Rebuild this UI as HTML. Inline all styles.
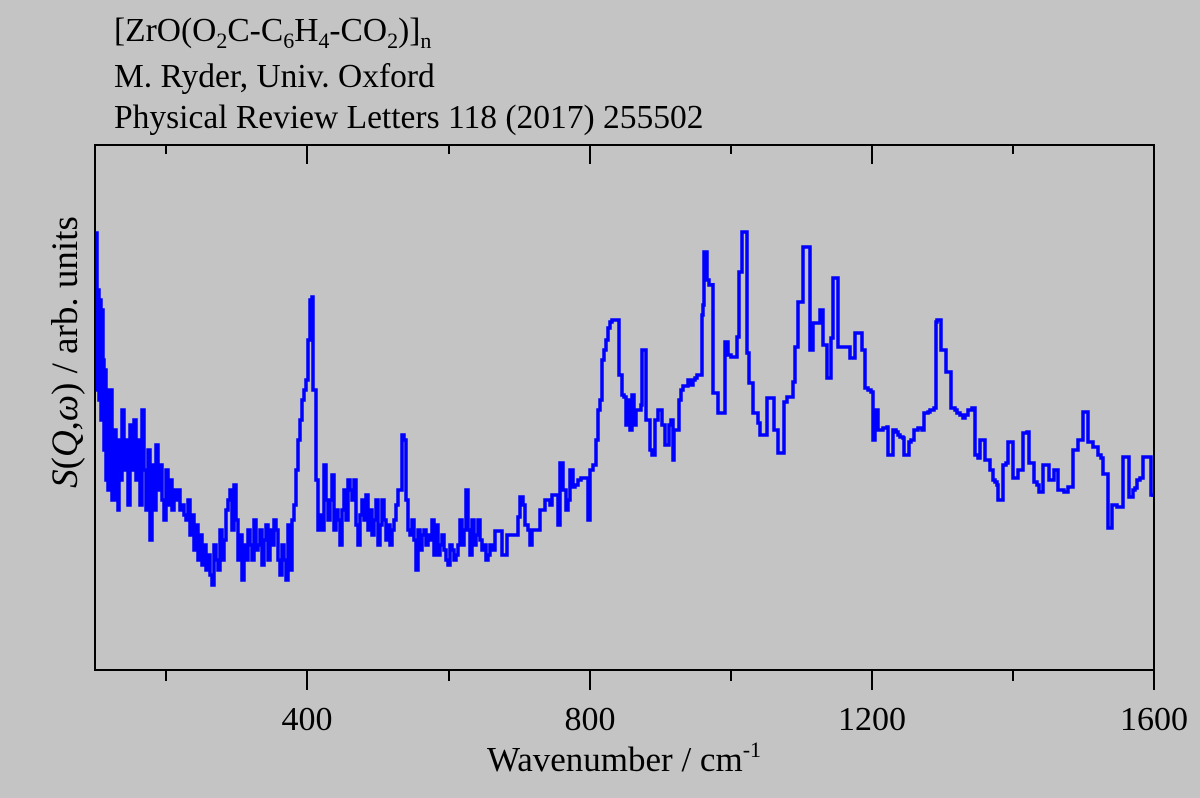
<!DOCTYPE html>
<html><head><meta charset="utf-8"><style>
body{margin:0;background:#c4c4c4;}
svg{display:block;font-family:"Liberation Serif",serif;}
</style></head><body>
<svg id="s" width="1200" height="798" xmlns="http://www.w3.org/2000/svg">
<rect width="1200" height="798" fill="#c4c4c4"/>
<g font-size="33.5" fill="#000">
<text x="114" y="41">[ZrO(O<tspan font-size="22" dy="7">2</tspan><tspan dy="-7">C-C</tspan><tspan font-size="22" dy="7">6</tspan><tspan dy="-7">H</tspan><tspan font-size="22" dy="7">4</tspan><tspan dy="-7">-CO</tspan><tspan font-size="22" dy="7">2</tspan><tspan dy="-7">)]</tspan><tspan font-size="22" dy="7">n</tspan></text>
<text x="114" y="87">M. Ryder, Univ. Oxford</text>
<text x="114" y="128">Physical Review Letters 118 (2017) 255502</text>
</g>
<path id="p" fill="none" stroke="#0000ff" stroke-width="3.5" stroke-linejoin="miter"/>
<rect x="95" y="145" width="1059" height="525" fill="none" stroke="#000" stroke-width="2"/>
<g stroke="#000" stroke-width="2">
<line x1="166" y1="670" x2="166" y2="681"/><line x1="307" y1="670" x2="307" y2="690"/>
<line x1="449" y1="670" x2="449" y2="681"/><line x1="590" y1="670" x2="590" y2="690"/>
<line x1="731" y1="670" x2="731" y2="681"/><line x1="872" y1="670" x2="872" y2="690"/>
<line x1="1013" y1="670" x2="1013" y2="681"/><line x1="1154" y1="670" x2="1154" y2="690"/>
<line x1="166" y1="145" x2="166" y2="154"/><line x1="307" y1="145" x2="307" y2="164"/>
<line x1="449" y1="145" x2="449" y2="154"/><line x1="590" y1="145" x2="590" y2="164"/>
<line x1="731" y1="145" x2="731" y2="154"/><line x1="872" y1="145" x2="872" y2="164"/>
<line x1="1013" y1="145" x2="1013" y2="154"/>
</g>
<g font-size="34" text-anchor="middle" fill="#000">
<text x="307" y="730">400</text><text x="590" y="730">800</text>
<text x="872" y="730">1200</text><text x="1154" y="730">1600</text>
<text x="624" y="771" font-size="35">Wavenumber / cm<tspan font-size="22" dy="-14">-1</tspan></text>
<text transform="translate(77,352) rotate(-90)" font-size="37"><tspan font-style="italic">S</tspan>(<tspan font-style="italic">Q</tspan>,<tspan font-style="italic">ω</tspan>) / arb. units</text>
</g>
</svg>
<script>
var d=[96,233,97,390,98,290,99,400,100,300,101,420,102,310,103,360,104,450,105,370,106,480,107,390,108,490,109,440,110,480,111,390,112,500,113,460,114,490,115,430,116,500,117,455,118,510,119,440,120,480,122,410,124,470,126,440,128,505,130,425,132,470,134,420,136,480,138,440,140,505,142,410,144,470,146,510,148,450,150,540,152,465,154,510,156,445,158,490,160,465,162,500,164,520,166,470,168,505,170,480,172,510,174,490,176,500,178,490,180,510,182,505,184,515,186,520,188,500,190,535,192,515,194,550,196,525,198,560,200,535,202,565,204,545,206,570,208,555,210,575,212,585,214,545,216,560,218,570,220,530,222,560,224,540,226,510,228,500,230,490,232,530,234,485,236,520,238,560,240,535,242,580,244,545,246,560,248,530,250,545,252,560,254,520,256,550,258,545,260,530,262,565,264,540,266,525,268,560,270,530,272,545,274,520,276,530,278,560,280,575,282,545,284,560,286,580,288,525,290,570,292,520,294,505,296,470,298,440,300,420,302,400,304,390,306,380,308,340,310,300,312,297,313,390,314,390,316,480,318,530,320,515,322,530,324,465,326,500,328,520,330,500,332,475,334,530,336,510,338,520,340,545,342,510,344,490,346,520,348,480,350,490,352,500,354,480,356,525,358,545,360,515,362,500,364,520,366,495,368,530,370,510,372,535,374,520,376,500,378,545,380,525,382,500,384,520,386,540,388,525,390,545,392,530,394,520,396,505,398,490,400,490,402,435,404,440,406,500,408,530,410,535,412,520,414,540,416,570,418,530,420,550,422,535,424,530,426,545,428,535,430,540,432,520,434,555,436,525,438,555,440,545,442,535,444,550,446,560,448,565,450,545,452,550,454,560,456,555,458,545,460,520,462,545,464,530,466,490,468,530,470,555,472,520,474,545,476,535,478,520,480,540,482,550,484,545,486,560,488,555,490,545,492,550,495,531,502,555,507,535,515,535,518,517,520,497,523,505,525,525,528,530,530,545,532,530,536,530,540,510,542,510,545,500,548,500,550,505,552,495,555,495,558,525,560,463,563,490,566,510,568,500,570,470,573,487,575,485,578,480,581,478,584,478,588,520,590,470,593,465,596,440,598,410,600,400,602,360,604,350,606,340,608,328,610,322,612,320,617,320,619,375,622,395,624,397,626,425,628,400,630,430,632,395,634,425,636,410,638,410,641,405,642,350,644,350,646,420,648,420,650,450,652,455,654,455,655,420,658,410,660,410,662,425,664,425,665,445,667,445,669,425,671,420,673,460,674,430,677,430,679,400,681,390,683,386,685,386,688,380,690,385,693,380,695,378,697,375,701,375,702,315,703,305,704,252,706,252,707,280,709,285,711,285,713,283,713,393,718,393,718,413,723,413,725,342,728,355,731,357,735,357,737,337,739,272,742,232,747,232,747,353,749,383,753,413,758,423,760,435,765,435,767,398,772,398,774,430,778,453,783,453,784,402,787,397,792,397,793,382,795,347,798,302,802,302,803,247,810,247,810,350,813,323,818,323,820,310,822,310,823,345,827,378,830,378,831,338,833,278,838,278,838,347,847,347,850,358,855,358,855,333,860,333,862,350,864,350,865,388,868,390,871,392,873,440,875,410,877,410,878,430,880,430,883,428,887,427,888,455,891,455,893,430,896,432,898,435,900,437,903,438,904,455,907,455,909,442,911,440,914,430,916,430,918,428,922,430,924,413,928,412,930,410,933,410,934,408,936,322,937,320,940,320,941,350,944,350,946,372,950,372,951,408,955,410,957,413,960,415,963,418,965,415,968,410,972,408,975,408,975,455,978,458,980,440,983,440,985,460,988,460,990,470,993,480,995,482,997,485,998,500,1001,500,1003,465,1006,463,1008,442,1012,442,1013,478,1016,478,1018,470,1022,470,1023,433,1027,432,1029,463,1032,463,1034,482,1037,485,1039,492,1041,492,1043,465,1047,465,1049,480,1052,480,1054,470,1057,470,1058,490,1062,490,1064,492,1066,492,1068,487,1071,487,1073,450,1076,450,1078,440,1081,440,1083,412,1086,412,1088,442,1091,442,1093,447,1096,447,1098,455,1101,458,1103,474,1106,474,1108,528,1111,528,1112,505,1115,505,1117,507,1121,507,1123,457,1127,457,1129,497,1131,497,1133,490,1135,488,1137,480,1140,478,1143,457,1150,457,1151,495,1153,497];
var s="M"+d[0]+" "+d[1];
for(var i=2;i<d.length;i+=2){s+=" H"+d[i]+" V"+d[i+1];}
document.getElementById("p").setAttribute("d",s);
</script>
</body></html>
